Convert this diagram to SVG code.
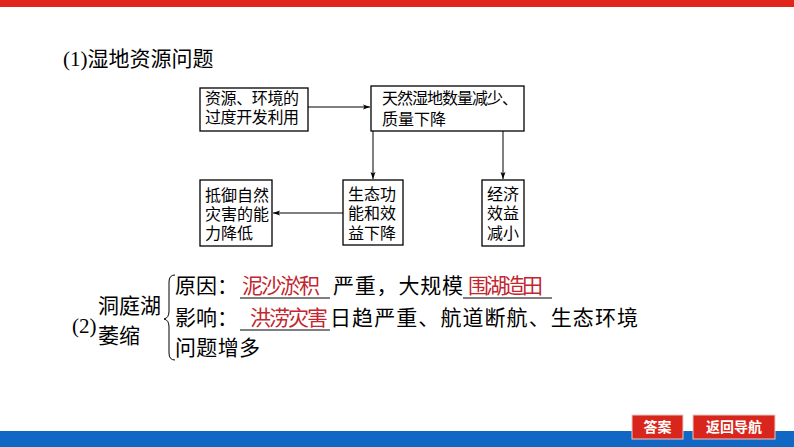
<svg xmlns="http://www.w3.org/2000/svg" width="794" height="447" viewBox="0 0 794 447">
<style>
.t{font-family:"Liberation Serif","Noto Sans CJK SC",serif;fill:#000}
.b{font-size:16px}
.l{font-size:21px}
.r{fill:#c3262e}
.box{fill:#fff;stroke:#000;stroke-width:1.3}
.ln{stroke:#000;stroke-width:1;fill:none}
.btn{fill:#d8261c;stroke:#f0c8c0;stroke-width:1}
.bt{font-family:"Noto Sans CJK SC","Liberation Sans",sans-serif;font-size:14px;font-weight:bold;fill:#fff}
</style>
<defs>
<marker id="ah" markerWidth="8" markerHeight="6" refX="7" refY="3" orient="auto" markerUnits="userSpaceOnUse">
<path d="M0,0.5 L7,3 L0,5.5 L1.5,3 Z" fill="#000"/>
</marker>
</defs>
<rect x="0" y="0" width="794" height="447" fill="#fff"/>
<rect x="0" y="0" width="794" height="7" fill="#e1251b"/>
<rect x="0" y="431" width="794" height="16" fill="#1167c4"/>

<text class="t" x="63" y="66" font-size="21">(1)湿地资源问题</text>

<g id="connectors">
<line class="ln" x1="308" y1="107" x2="370" y2="107" marker-end="url(#ah)"/>
<line class="ln" x1="373" y1="131" x2="373" y2="179" marker-end="url(#ah)"/>
<line class="ln" x1="503" y1="131" x2="503" y2="179" marker-end="url(#ah)"/>
<line class="ln" x1="343" y1="213" x2="273" y2="213" marker-end="url(#ah)"/>
</g>

<g id="n1">
<rect class="box" x="200" y="88" width="108" height="43"/>
<text class="t b" x="205" y="104" textLength="94">资源、环境的</text>
<text class="t b" x="205" y="123" textLength="94">过度开发利用</text>
</g>
<g id="n2">
<rect class="box" x="371" y="86" width="153" height="45"/>
<text class="t b" x="382" y="104" textLength="136">天然湿地数量减少、</text>
<text class="t b" x="382" y="125">质量下降</text>
</g>
<g id="n3">
<rect class="box" x="200" y="180" width="72" height="66"/>
<text class="t b" x="205" y="201">抵御自然</text>
<text class="t b" x="205" y="220">灾害的能</text>
<text class="t b" x="205" y="239">力降低</text>
</g>
<g id="n4">
<rect class="box" x="343" y="180" width="60" height="65"/>
<text class="t b" x="348" y="200">生态功</text>
<text class="t b" x="348" y="219">能和效</text>
<text class="t b" x="348" y="239">益下降</text>
</g>
<g id="n5">
<rect class="box" x="482" y="180" width="42" height="66"/>
<text class="t b" x="487" y="200">经济</text>
<text class="t b" x="487" y="219">效益</text>
<text class="t b" x="487" y="239">减小</text>
</g>

<g id="part2">
<text class="t l" x="72" y="333">(2)</text>
<text class="t l" x="98" y="313">洞庭湖</text>
<text class="t l" x="98" y="343">萎缩</text>
<path class="ln" stroke-width="1.2" d="M175,275 Q169,275 169,282 L169,311 Q169,318 164,319 Q169,320 169,327 L169,353 Q169,360 175,360"/>
<text class="t l" x="175" y="293">原因：</text>
<text class="t l r" x="242" y="293" textLength="78">泥沙淤积</text>
<line class="ln" x1="240" y1="298" x2="330" y2="298"/>
<text class="t l" x="333" y="293" textLength="130">严重，大规模</text>
<text class="t l r" x="468" y="293" textLength="75">围湖造田</text>
<line class="ln" x1="463" y1="298" x2="552" y2="298"/>
<text class="t l" x="175" y="325">影响：</text>
<line class="ln" x1="240" y1="330" x2="330" y2="330"/>
<text class="t l r" x="250" y="325" textLength="78">洪涝灾害</text>
<text class="t l" x="330" y="325" textLength="308">日趋严重、航道断航、生态环境</text>
<text class="t l" x="175" y="355" textLength="85">问题增多</text>
</g>

<g id="btn1">
<rect class="btn" x="632" y="415" width="51" height="24"/>
<text class="bt" x="657.5" y="432" text-anchor="middle">答案</text>
</g>
<g id="btn2">
<rect class="btn" x="693" y="415" width="82" height="24"/>
<text class="bt" x="734" y="432" text-anchor="middle">返回导航</text>
</g>
</svg>
